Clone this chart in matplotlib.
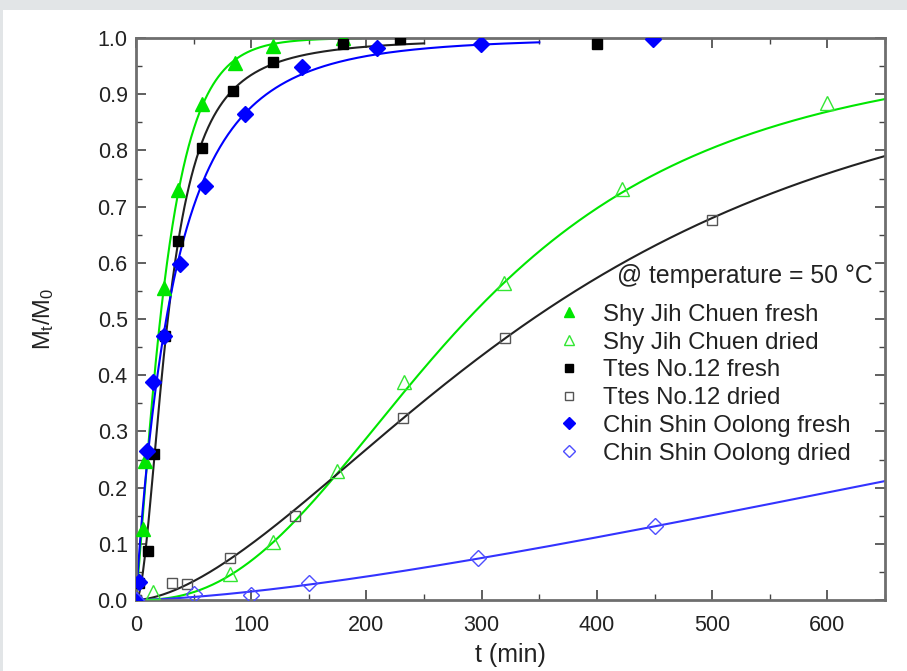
# drying curves, Mt/M0 vs t, three tea cultivars fresh and dried @ 50 C
import numpy as np
import matplotlib
matplotlib.use("Agg")
import matplotlib.pyplot as plt
from matplotlib.patches import Rectangle
from matplotlib.ticker import MultipleLocator, FormatStrFormatter

plt.rcParams['font.family'] = ['Liberation Sans', 'DejaVu Sans']

# === datos ===
t_sjc_fresh = [0, 6.4, 7.8, 24.6, 36.7, 57, 86, 119, 180]
m_sjc_fresh = [0, 0.127, 0.248, 0.556, 0.729, 0.882, 0.955, 0.986, 1.0]

t_sjc_dried = [0, 15, 82, 119, 174, 233, 319, 422, 600]
m_sjc_dried = [0, 0.015, 0.046, 0.103, 0.23, 0.388, 0.564, 0.731, 0.885]

t_ttes_fresh = [0, 3, 10, 15.9, 25, 36.7, 57.6, 84.5, 118.6, 180, 229, 400]
m_ttes_fresh = [0, 0.03, 0.088, 0.26, 0.47, 0.638, 0.804, 0.906, 0.957, 0.99, 0.998, 0.99]

t_ttes_dried = [0, 31, 44, 82, 138, 232, 320, 500]
m_ttes_dried = [0, 0.031, 0.028, 0.074, 0.149, 0.324, 0.466, 0.676]

t_cso_fresh = [0, 3, 9.3, 15, 24.6, 38.2, 60, 94.6, 144, 209, 299, 449]
m_cso_fresh = [0, 0.032, 0.265, 0.388, 0.469, 0.598, 0.736, 0.864, 0.949, 0.982, 0.99, 0.998]

t_cso_dried = [0, 50, 100, 150, 297, 450]
m_cso_dried = [0, 0.01, 0.009, 0.03, 0.074, 0.131]

labels = ["Shy Jih Chuen fresh", "Shy Jih Chuen dried",
          "Ttes No.12 fresh", "Ttes No.12 dried",
          "Chin Shin Oolong fresh", "Chin Shin Oolong dried"]

# hasta donde llega cada curva ajustada (min)
fit_end = [195, 650, 250, 650, 350, 650]


# === ajuste: M = 1 - (1 + (t/tau)^n / s)^(-s)  (s grande -> Page, s=1 -> log-logistico) ===
def model(t, tau, n, s):
    return 1 - (1 + (t / tau) ** n / s) ** (-s)


def fit(t, m):
    t = np.asarray(t, float)
    m = np.asarray(m, float)
    taus = np.exp(np.linspace(np.log(2), np.log(4000), 170))
    ns = np.linspace(0.5, 4.0, 71)
    ss = np.exp(np.linspace(np.log(0.3), np.log(200), 25))
    T, N, S = np.meshgrid(taus, ns, ss, indexing="ij")
    x = (t / T[..., None]) ** N[..., None]
    pred = 1 - (1 + x / S[..., None]) ** (-S[..., None])
    sse = ((pred - m) ** 2).sum(-1)
    i = np.unravel_index(sse.argmin(), sse.shape)
    return T[i], N[i], S[i]


green = "#00e600"
blue = "#0000ff"
series = [
    (t_sjc_fresh, m_sjc_fresh, dict(marker="^", color=green, mfc=green, ms=9.5), green),
    (t_sjc_dried, m_sjc_dried, dict(marker="^", color="#33e633", mfc="none", ms=9.5, mew=1.0), green),
    (t_ttes_fresh, m_ttes_fresh, dict(marker="s", color="black", mfc="black", ms=7.5), "#222222"),
    (t_ttes_dried, m_ttes_dried, dict(marker="s", color="#555555", mfc="none", ms=7.5, mew=1.0), "#222222"),
    (t_cso_fresh, m_cso_fresh, dict(marker="D", color=blue, mfc=blue, ms=8), blue),
    (t_cso_dried, m_cso_dried, dict(marker="D", color="#4d4dff", mfc="none", ms=8, mew=1.0), "#3333ff"),
]

# === figura ===
fig = plt.figure(figsize=(9.07, 6.71), dpi=100, facecolor="#e2e5e7")
fig.patches.append(Rectangle((3 / 907, 0), 1, 1 - 10 / 671, transform=fig.transFigure,
                             facecolor="white", edgecolor="none", zorder=-1))
ax = fig.add_axes([136 / 907, 1 - 600 / 671, 749 / 907, 562 / 671])
ax.set_facecolor("white")

handles = []
for (t, m, sty, lc), lab, tend in zip(series, labels, fit_end):
    tau, n, s = fit(t, m)
    tt = np.linspace(0, tend, 500)
    ax.plot(tt, model(tt, tau, n, s), color=lc, lw=1.5, zorder=2)
    h, = ax.plot(t, m, ls="none", label=lab, zorder=3, **sty)
    handles.append(h)

ax.set_xlim(0, 650)
ax.set_ylim(0, 1.0)
ax.xaxis.set_major_locator(MultipleLocator(100))
ax.xaxis.set_minor_locator(MultipleLocator(50))
ax.yaxis.set_major_locator(MultipleLocator(0.1))
ax.yaxis.set_minor_locator(MultipleLocator(0.05))
ax.yaxis.set_major_formatter(FormatStrFormatter("%.1f"))
ax.tick_params(which="both", direction="in", top=True, right=True,
               color="#444444", labelsize=15.5, labelcolor="#222222")
ax.tick_params(axis="x", pad=11)
ax.tick_params(axis="y", pad=6)
ax.tick_params(which="major", length=7, width=1.2)
ax.tick_params(which="minor", length=4, width=1.0)
for s in ax.spines.values():
    s.set_color("#6e6e6e")
    s.set_linewidth(2)

ax.set_xlabel("t (min)", fontsize=18, labelpad=5, color="#222222")
ax.set_ylabel(r"$\mathregular{M_t/M_0}$", fontsize=17, labelpad=30, color="#222222")

ax.text(0.984, 0.577, "@ temperature = 50 \u00b0C", transform=ax.transAxes,
        ha="right", va="center", fontsize=17.8, color="#222222")
ax.legend(handles=handles, loc="upper left", bbox_to_anchor=(0.562, 0.527),
          frameon=False, fontsize=17.3, handlelength=1.0, handletextpad=0.93,
          labelspacing=0.24, borderpad=0, borderaxespad=0, markerscale=0.75,
          labelcolor="#222222")

fig.savefig("out.png", dpi=100, facecolor=fig.get_facecolor())
plt.close(fig)
